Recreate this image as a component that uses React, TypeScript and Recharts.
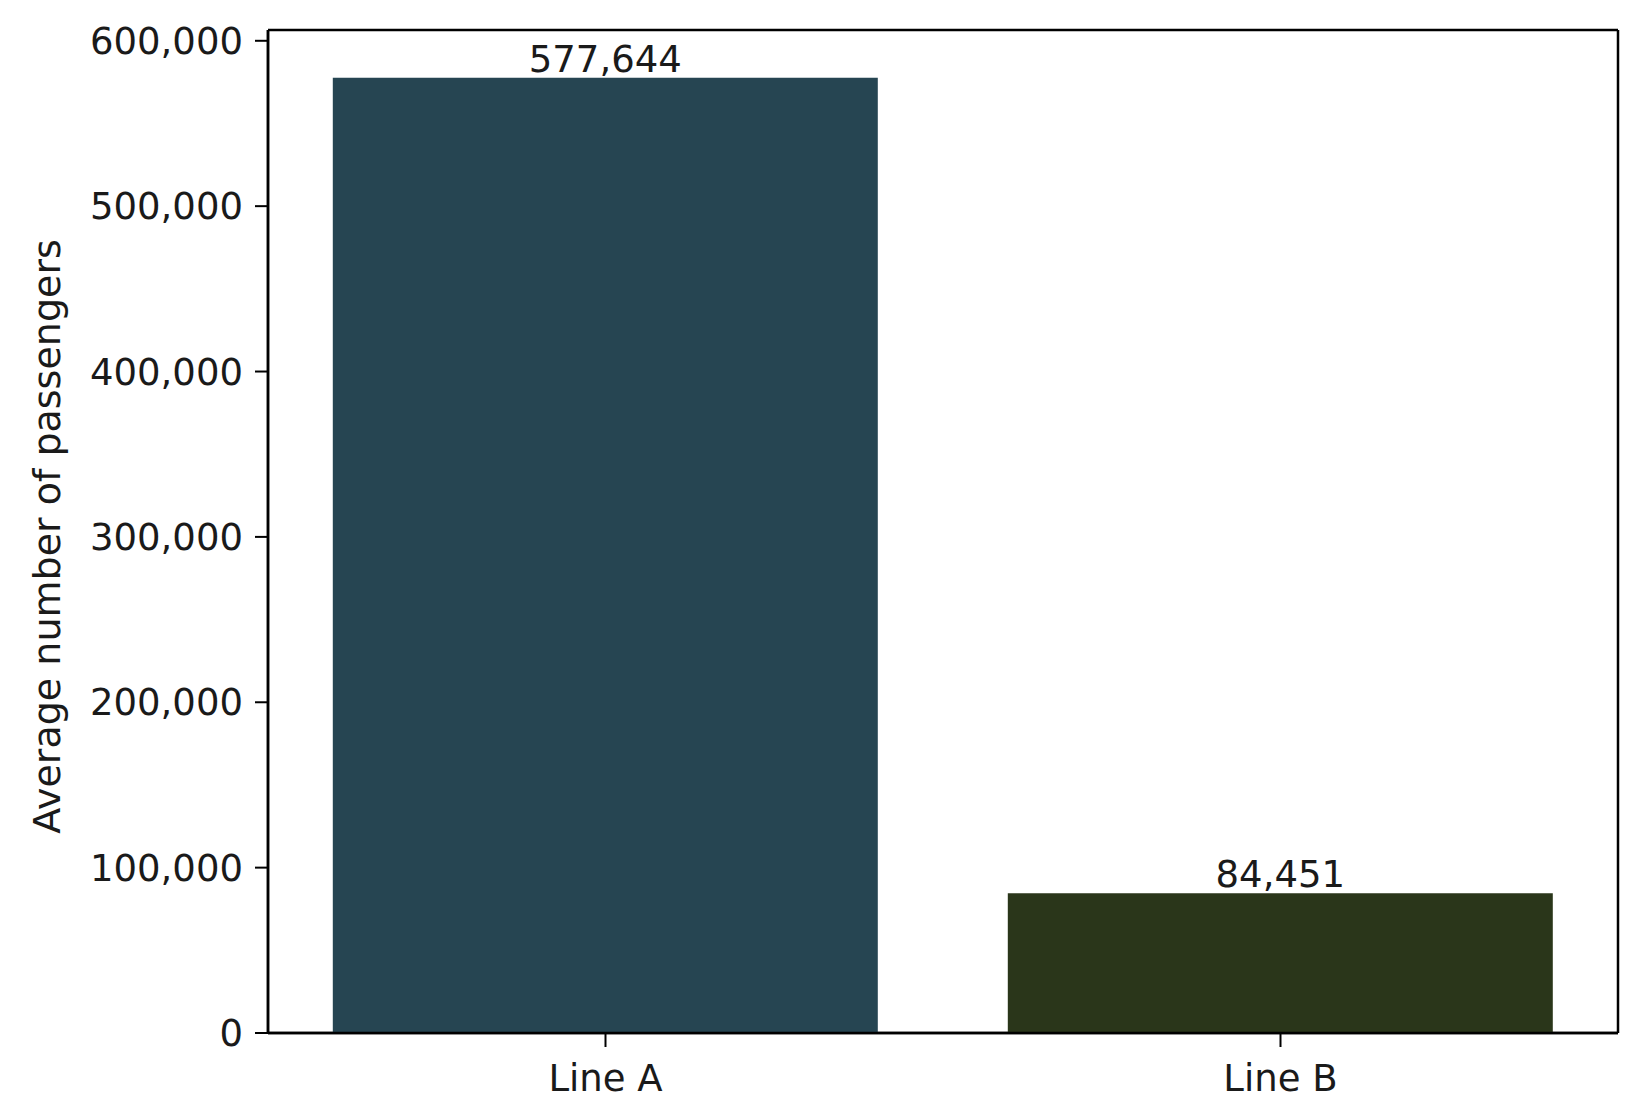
import React from 'react';
import { BarChart, Bar, XAxis, YAxis, Cell, LabelList, CartesianGrid } from 'recharts';

const categories = ['Line A', 'Line B'];
const passengers = [577644, 84451];
const barColors = ['#264552', '#2a361a'];
const yTicks = [0, 100000, 200000, 300000, 400000, 500000, 600000];
const yMax = 606526;
const yLabel = 'Average number of passengers';

const data = categories.map((name, i) => ({ name, value: passengers[i] }));

const FONT = '"DejaVu Sans", sans-serif';
const TXT = '#1a1a1a';
const fmt = (v: number) => Number(v).toLocaleString('en-US');

const YLabel = (props: any) => {
  const vb = props.viewBox || {};
  const cx = 60;
  const cy = (vb.y ?? 30) + (vb.height ?? 1003) / 2 + 5;
  return (
    <text
      x={cx}
      y={cy}
      transform={`rotate(-90, ${cx}, ${cy})`}
      textAnchor="middle"
      fontFamily={FONT}
      fontSize={38}
      fill={TXT}
    >
      {yLabel}
    </text>
  );
};

const hFrame = (p: any) => {
  const o = p.offset || {};
  return [o.top, o.top + o.height];
};
const vFrame = (p: any) => {
  const o = p.offset || {};
  return [o.left, o.left + o.width];
};

export default function App() {
  return (
    <div style={{ position: 'absolute', left: 0, top: 0, background: '#fff' }}>
      <BarChart
        width={1651}
        height={1118}
        data={data}
        margin={{ top: 30, right: 33, bottom: 0, left: 0 }}
        barCategoryGap="9.6%"
        style={{ fontFamily: FONT }}
      >
        <CartesianGrid
          stroke="#000"
          strokeWidth={2.5}
          horizontalCoordinatesGenerator={hFrame}
          verticalCoordinatesGenerator={vFrame}
        />
        <XAxis
          dataKey="name"
          height={85}
          tickSize={14}
          tickMargin={18}
          axisLine={{ stroke: '#000', strokeWidth: 2.5 }}
          tickLine={{ stroke: '#000', strokeWidth: 2 }}
          tick={{ fontSize: 37, fill: TXT, fontFamily: FONT }}
        />
        <YAxis
          width={268}
          domain={[0, yMax]}
          ticks={yTicks}
          interval={0}
          tickSize={13}
          tickMargin={12}
          tickFormatter={fmt}
          axisLine={{ stroke: '#000', strokeWidth: 2.5 }}
          tickLine={{ stroke: '#000', strokeWidth: 2 }}
          tick={{ fontSize: 37, fill: TXT, fontFamily: FONT }}
          label={<YLabel />}
        />
        <Bar dataKey="value" isAnimationActive={false}>
          {data.map((d, i) => (
            <Cell key={d.name} fill={barColors[i]} />
          ))}
          <LabelList
            dataKey="value"
            position="top"
            offset={6}
            formatter={(v: any) => fmt(v)}
            style={{ fontSize: 37, fill: TXT, fontFamily: FONT }}
          />
        </Bar>
      </BarChart>
    </div>
  );
}
